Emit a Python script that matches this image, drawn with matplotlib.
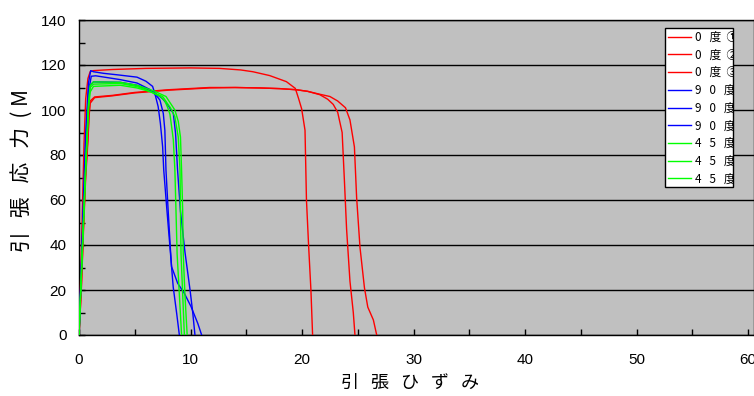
import matplotlib
matplotlib.use("Agg")
import matplotlib.pyplot as plt
from matplotlib.patches import Rectangle
from matplotlib.ticker import MultipleLocator

plt.rcParams['font.family'] = ['Noto Sans CJK JP', 'DejaVu Sans']

# 0 deg specimens
strain_0_1 = [0, 0.15, 0.3, 0.45, 0.6, 0.8, 1.0, 1.3, 3, 6, 10, 12.6, 14.5, 15.6, 17.1, 18.6,
              19.4, 19.7, 19.97, 20.27, 20.4, 20.6, 20.8, 20.95]
stress_0_1 = [0, 25, 55, 85, 105, 114, 117, 117.5, 118, 118.5, 118.7, 118.5, 117.8, 117, 115.3, 112.6,
              109.6, 105, 100.5, 91, 60, 39, 20, 0]
strain_0_2 = [0, 0.2, 0.4, 0.6, 0.8, 0.9, 1.0, 1.4, 3, 5, 8, 11.7, 14, 16.2, 18, 19.5, 20.5, 21.6,
              22.3, 22.8, 23.2, 23.6, 23.8, 24.0, 24.3, 24.6, 24.75]
stress_0_2 = [0, 20, 48, 72, 88, 98, 104, 105.8, 106.5, 107.8, 109, 110, 110, 109.8, 109.5, 109, 108.3, 106.8,
              104.8, 102.5, 99, 90, 69, 47, 24, 10, 0]
strain_0_3 = [0, 0.2, 0.4, 0.6, 0.8, 0.9, 1.0, 1.4, 3, 5, 8, 11.7, 14, 16.2, 18, 19.5, 20.5, 21.6,
              22.5, 23.2, 23.9, 24.3, 24.7, 24.9, 25.2, 25.6, 25.9, 26.4, 26.7]
stress_0_3 = [0, 19, 46, 70, 86, 97, 103, 105.5, 106.3, 107.6, 108.8, 109.8, 110, 109.8, 109.5, 109, 108.3, 107,
              106, 104, 101, 95.6, 83.6, 61, 39, 21, 12.4, 6.7, 0]

# 90 deg specimens
strain_90_1 = [0, 0.3, 0.6, 0.85, 1.05, 1.3, 2.2, 3.5, 5.2, 6.0, 6.6, 6.8, 7.1, 7.3, 7.5, 7.6,
               7.86, 8.16, 8.45, 8.76, 9.0]
stress_90_1 = [0, 45, 90, 112, 117.5, 117, 116.3, 115.6, 114.6, 112.8, 110.5, 107.4, 101.5, 94, 83.7, 73.3,
               57, 39, 21.3, 9.6, 0]
strain_90_2 = [0, 0.3, 0.6, 0.85, 1.1, 1.5, 3.7, 5.2, 6.4, 7.0, 7.26, 7.56, 7.7, 7.8, 8.0, 8.2,
               8.3, 8.85, 9.45, 10.05, 10.65, 11.0]
stress_90_2 = [0, 42, 85, 108, 115, 115.2, 113.5, 112, 109, 106, 104.4, 98.5, 91, 73.3, 55, 38,
               30.4, 23, 18.5, 12.6, 5.2, 0]
strain_90_3 = [0, 0.3, 0.6, 0.85, 1.0, 1.3, 3.7, 5.2, 6.7, 7.5, 8.0, 8.46, 8.66, 8.84, 9.1, 9.5,
               9.96, 10.2, 10.4]
stress_90_3 = [0, 40, 80, 104, 111, 112.5, 112.3, 111, 108, 105, 102, 98.5, 89.6, 73.3, 55, 37,
               20, 10, 0]

# 45 deg specimens
strain_45_1 = [0, 0.3, 0.63, 0.85, 1.0, 1.3, 3.7, 5.2, 6.0, 6.7, 7.3, 7.7, 8.0, 8.16, 8.35, 8.46,
               8.6, 8.7, 8.8, 9.0, 9.2]
stress_45_1 = [0, 38, 78, 102, 110, 111.5, 111.8, 110.4, 109, 107.4, 106, 104, 100.5, 98, 91, 86.7,
               73.3, 55, 36, 18, 0]
strain_45_2 = [0, 0.3, 0.63, 0.85, 1.0, 1.3, 3.7, 5.2, 6.5, 7.5, 8.2, 8.6, 8.9, 9.06, 9.1, 9.15,
               9.3, 9.45]
stress_45_2 = [0, 37, 77, 100, 108, 110.5, 111, 109.8, 108, 106, 101, 97, 88, 73.3, 55, 36, 18, 0]
strain_45_3 = [0, 0.3, 0.63, 0.85, 1.0, 1.3, 3.7, 5.2, 6.7, 7.8, 8.6, 8.9, 9.1, 9.2, 9.3, 9.35,
               9.5, 9.7]
stress_45_3 = [0, 39, 79, 103, 111, 112.5, 112.3, 111, 108.5, 106, 100, 95, 88, 73.3, 55, 36, 18, 0]

labels = ['0   度  ①', '0   度  ②', '0   度  ③',
          '9   0   度  ①', '9   0   度  ②', '9   0   度  ③',
          '4   5   度  ①', '4   5   度  ②', '4   5   度  ③']
strains = [strain_0_1, strain_0_2, strain_0_3, strain_90_1, strain_90_2, strain_90_3,
           strain_45_1, strain_45_2, strain_45_3]
stresses = [stress_0_1, stress_0_2, stress_0_3, stress_90_1, stress_90_2, stress_90_3,
            stress_45_1, stress_45_2, stress_45_3]
colors = ['#ff0000'] * 3 + ['#0000ff'] * 3 + ['#00ff00'] * 3

fig = plt.figure(figsize=(7.54, 3.96), dpi=100)
ax = fig.add_axes([79 / 754, 1 - 335 / 396, 1 - 79 / 754, 315 / 396])
ax.set_facecolor('#c0c0c0')

for x, y, c, lab in zip(strains, stresses, colors, labels):
    ax.plot(x, y, color=c, lw=1.0, label=lab, zorder=3)

ax.set_xlim(0, 60 * (754 - 79) / (748 - 79))
ax.set_ylim(0, 140)
ax.xaxis.set_major_locator(MultipleLocator(10))
ax.xaxis.set_minor_locator(MultipleLocator(5))
ax.yaxis.set_major_locator(MultipleLocator(20))
ax.yaxis.set_minor_locator(MultipleLocator(10))
ax.tick_params(which='both', direction='in', length=4, width=1, color='black')
ax.tick_params(axis='x', pad=13)
ax.tick_params(axis='y', pad=9)
for t in ax.get_xticklabels():
    t.set_fontfamily(['Liberation Sans Narrow', 'Liberation Sans'])
    t.set_fontsize(11)
for t in ax.get_yticklabels():
    t.set_fontfamily(['Liberation Sans'])
    t.set_fontsize(11)

ax.yaxis.grid(True, color='black', lw=1.0)
ax.set_axisbelow(True)
for s in ax.spines.values():
    s.set_color('black')
    s.set_linewidth(1.0)

# legend box (labels are cut off by the box like the original)
box = Rectangle((0.868, 0.470), 0.101, 0.505, transform=ax.transAxes,
                facecolor='white', edgecolor='black', lw=1.0, zorder=4)
ax.add_patch(box)
leg = ax.legend(loc='upper left', bbox_to_anchor=(0.868, 0.975), frameon=False,
                fontsize=8.5, handlelength=2.0, handletextpad=0.3, borderpad=0.25,
                borderaxespad=0, labelspacing=0.40)
leg.set_zorder(5)
for t in leg.get_texts():
    t.set_clip_path(box)

fig.text(22 / 754, 1 - 170 / 396, '引   張   応   力  ( M', rotation=90,
         ha='center', va='center', fontsize=15)
fig.text(410 / 754, 1 - 383 / 396, '引   張   ひ   ず   み', ha='center', va='center', fontsize=13)

fig.savefig('out.png', dpi=100)
